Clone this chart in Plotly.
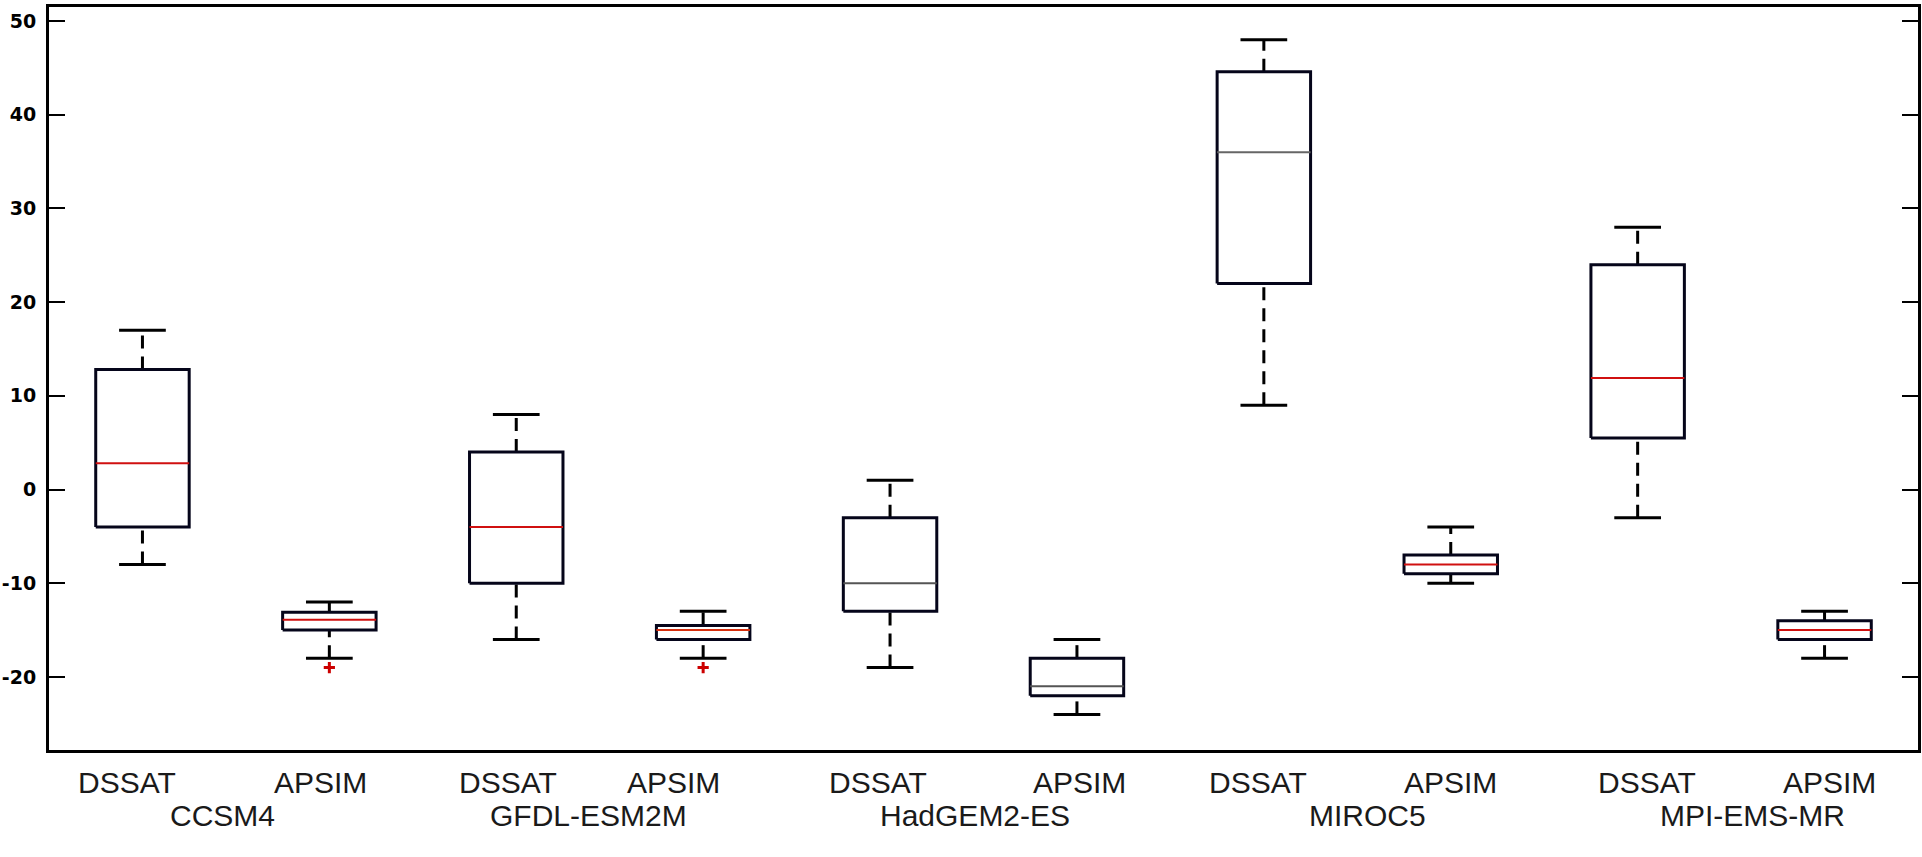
import plotly.graph_objects as go

# ---------------- data ----------------
groups = ["CCSM4", "GFDL-ESM2M", "HadGEM2-ES", "MIROC5", "MPI-EMS-MR"]
models = ["DSSAT", "APSIM"]

# order: CCSM4-DSSAT, CCSM4-APSIM, GFDL-DSSAT, GFDL-APSIM, ... MPI-APSIM
whisker_low = [-8, -18, -16, -18, -19, -24, 9, -10, -3, -18]
q1_vals     = [-4, -15, -10, -16, -13, -22, 22, -9, 5.5, -16]
median_vals = [2.8, -13.9, -4, -15, -10, -21, 36, -8, 11.9, -15]
q3_vals     = [12.8, -13.1, 4, -14.5, -3, -18, 44.6, -7, 24, -14]
whisker_high = [17, -12, 8, -13, 1, -16, 48, -4, 28, -13]
outliers = [[], [-19], [], [-19], [], [], [], [], [], []]

y_tickvals = [-20, -10, 0, 10, 20, 30, 40, 50]
y_ticktext = ["-20", "-10", "0", "10", "20", "30", "40", "50"]

# ---------------- style / layout constants ----------------
BOX_HALF = 0.25
CAP_HALF = 0.125
median_colors = ["#d01010", "#d01010", "#d01010", "#d83010", "#555555",
                 "#555555", "#666666", "#d01010", "#d01010", "#d01010"]
model_label_x = [0.917, 1.953, 2.957, 3.843, 4.938, 6.016, 6.967, 7.997, 9.049, 10.027]
group_label_x = [1.43, 3.384, 5.456, 7.554, 9.615]

positions = list(range(1, len(q1_vals) + 1))

fig = go.Figure()

# whiskers (dashed)
wx, wy = [], []
for p, lo, a, b, hi in zip(positions, whisker_low, q1_vals, q3_vals, whisker_high):
    wx += [p, p, None, p, p, None]
    wy += [lo, a, None, b, hi, None]
fig.add_trace(go.Scatter(x=wx, y=wy, mode="lines", hoverinfo="skip",
                         line=dict(color="black", width=3, dash="13px,8px")))

# caps
cx, cy = [], []
for p, lo, hi in zip(positions, whisker_low, whisker_high):
    cx += [p - CAP_HALF, p + CAP_HALF, None, p - CAP_HALF, p + CAP_HALF, None]
    cy += [lo, lo, None, hi, hi, None]
fig.add_trace(go.Scatter(x=cx, y=cy, mode="lines", hoverinfo="skip",
                         line=dict(color="black", width=3)))

# boxes
bx, by = [], []
for p, a, b in zip(positions, q1_vals, q3_vals):
    bx += [p - BOX_HALF, p + BOX_HALF, p + BOX_HALF, p - BOX_HALF, p - BOX_HALF, None]
    by += [a, a, b, b, a, None]
fig.add_trace(go.Scatter(x=bx, y=by, mode="lines", hoverinfo="skip",
                         line=dict(color="#05051a", width=3)))

# medians
for p, m, c in zip(positions, median_vals, median_colors):
    fig.add_trace(go.Scatter(x=[p - BOX_HALF, p + BOX_HALF], y=[m, m], mode="lines",
                             hoverinfo="skip", line=dict(color=c, width=2)))

# outliers
ox, oy = [], []
for p, outs in zip(positions, outliers):
    for o in outs:
        ox.append(p)
        oy.append(o)
fig.add_trace(go.Scatter(x=ox, y=oy, mode="markers", hoverinfo="skip",
                         marker=dict(symbol="cross-thin", size=8,
                                     line=dict(color="#cc0000", width=3))))

annotations = []
for i, xv in enumerate(model_label_x):
    annotations.append(dict(x=xv, y=0, xref="x", yref="paper", yanchor="middle",
                            xanchor="center", yshift=-32, showarrow=False,
                            text=models[i % 2],
                            font=dict(family="Liberation Sans, Arial", size=30, color="#1a1a1a")))
for g, xv in zip(groups, group_label_x):
    annotations.append(dict(x=xv, y=0, xref="x", yref="paper", yanchor="middle",
                            xanchor="center", yshift=-65, showarrow=False, text=g,
                            font=dict(family="Liberation Sans, Arial", size=30, color="#1a1a1a")))

fig.update_layout(
    width=1922, height=857,
    margin=dict(l=49, r=1, t=7, b=107),
    paper_bgcolor="white", plot_bgcolor="white",
    showlegend=False,
    annotations=annotations,
    xaxis=dict(range=[0.5, 10.5], showgrid=False, zeroline=False,
               showticklabels=False, ticks="",
               showline=True, linecolor="black", linewidth=3, mirror=True),
    yaxis=dict(range=[-27.8, 51.5], showgrid=False, zeroline=False,
               tickvals=y_tickvals, ticktext=y_ticktext,
               ticks="inside", ticklen=16, tickwidth=2, tickcolor="black",
               showline=True, linecolor="black", linewidth=3, mirror="ticks",
               ticklabelstandoff=6,
               tickfont=dict(family="DejaVu Sans", size=19, color="black", weight="bold")),
)

fig.write_html("out.html")
